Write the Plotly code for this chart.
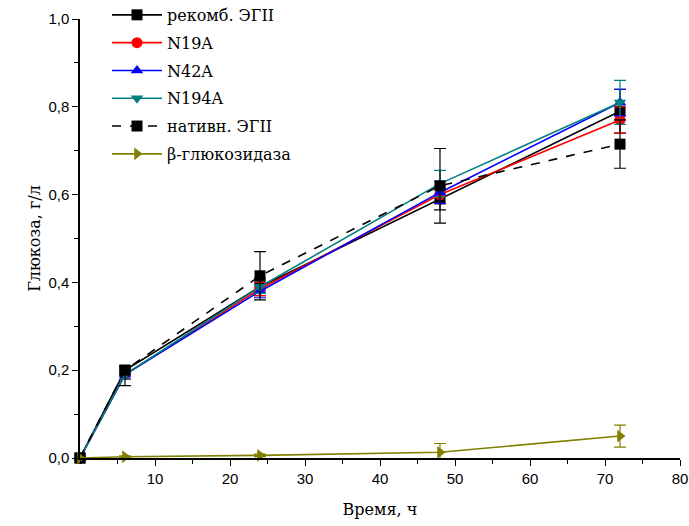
import plotly.graph_objects as go

time_h = [0, 6, 24, 48, 72]

rekomb = [0.0, 0.200, 0.390, 0.590, 0.790]
rekomb_err = [0.0, 0.010, 0.020, 0.025, 0.050]
n19a = [0.0, 0.190, 0.385, 0.600, 0.770]
n19a_err = [0.0, 0.010, 0.015, 0.020, 0.030]
n42a = [0.0, 0.190, 0.380, 0.605, 0.810]
n42a_err = [0.0, 0.010, 0.015, 0.025, 0.030]
n194a = [0.0, 0.190, 0.390, 0.625, 0.810]
n194a_err = [0.0, 0.010, 0.015, 0.030, 0.050]
nativ = [0.0, 0.200, 0.415, 0.620, 0.715]
nativ_err_plus = [0.0, 0.005, 0.055, 0.085, 0.055]
nativ_err_minus = [0.0, 0.035, 0.055, 0.085, 0.055]
bgluc = [0.0, 0.003, 0.006, 0.013, 0.050]
bgluc_err = [0.0, 0.002, 0.003, 0.020, 0.025]

series = [
    ("рекомб. ЭГII", rekomb, rekomb_err, rekomb_err, "#000000", "square", "solid"),
    ("N19A", n19a, n19a_err, n19a_err, "#ff0000", "circle", "solid"),
    ("N42A", n42a, n42a_err, n42a_err, "#0000ff", "triangle-up", "solid"),
    ("N194A", n194a, n194a_err, n194a_err, "#008080", "triangle-down", "solid"),
    ("нативн. ЭГII", nativ, nativ_err_plus, nativ_err_minus, "#000000", "square", "dash"),
    ("β-глюкозидаза", bgluc, bgluc_err, bgluc_err, "#808000", "triangle-right", "solid"),
]

fig = go.Figure()
for i, (name, y, errp, errm, color, sym, dash) in enumerate(series):
    fig.add_trace(go.Scatter(
        x=time_h, y=y, name=name, mode="lines+markers", legendgroup="g%d" % i,
        line=dict(color=color, width=1.6, dash=dash),
        marker=dict(symbol=sym, size=11, color=color),
        error_y=dict(type="data", array=errp, arrayminus=errm, symmetric=False, visible=True,
                     color=color, thickness=1.2, width=6),
        cliponaxis=False,
    ))

serif = "DejaVu Serif"
tickfont = dict(family="Liberation Sans", size=15, color="black")
titlefont = dict(family=serif, size=16, color="black")

fig.update_layout(
    width=689, height=526,
    margin=dict(l=80, r=9, t=19, b=68, autoexpand=False),
    paper_bgcolor="white", plot_bgcolor="white",
    separators=", ",
    showlegend=True,
    legend=dict(x=0.045, y=1.048, xanchor="left", yanchor="top",
                font=dict(family=serif, size=16, color="black"),
                bgcolor="rgba(0,0,0,0)", tracegroupgap=4, itemwidth=50),
    xaxis=dict(range=[0, 80], tickvals=[10, 20, 30, 40, 50, 60, 70, 80], automargin=False,
               ticks="outside", ticklen=6, tickwidth=1.2, tickcolor="black",
               minor=dict(dtick=5, tick0=0, ticks="outside", ticklen=4, tickwidth=1.2, tickcolor="black"),
               showline=True, linecolor="black", linewidth=1.5, showgrid=False, zeroline=False,
               tickfont=tickfont, title=dict(text="Время, ч", font=titlefont, standoff=18)),
    yaxis=dict(range=[0, 1.0], dtick=0.2, tick0=0, tickformat=".1f", automargin=False,
               ticks="outside", ticklen=6, tickwidth=1.2, tickcolor="black",
               minor=dict(dtick=0.1, tick0=0, ticks="outside", ticklen=4, tickwidth=1.2, tickcolor="black"),
               showline=True, linecolor="black", linewidth=1.5, showgrid=False, zeroline=False,
               tickfont=tickfont, title=dict(text="Глюкоза, г/л", font=titlefont, standoff=4)),
)

fig.write_html("out.html")
